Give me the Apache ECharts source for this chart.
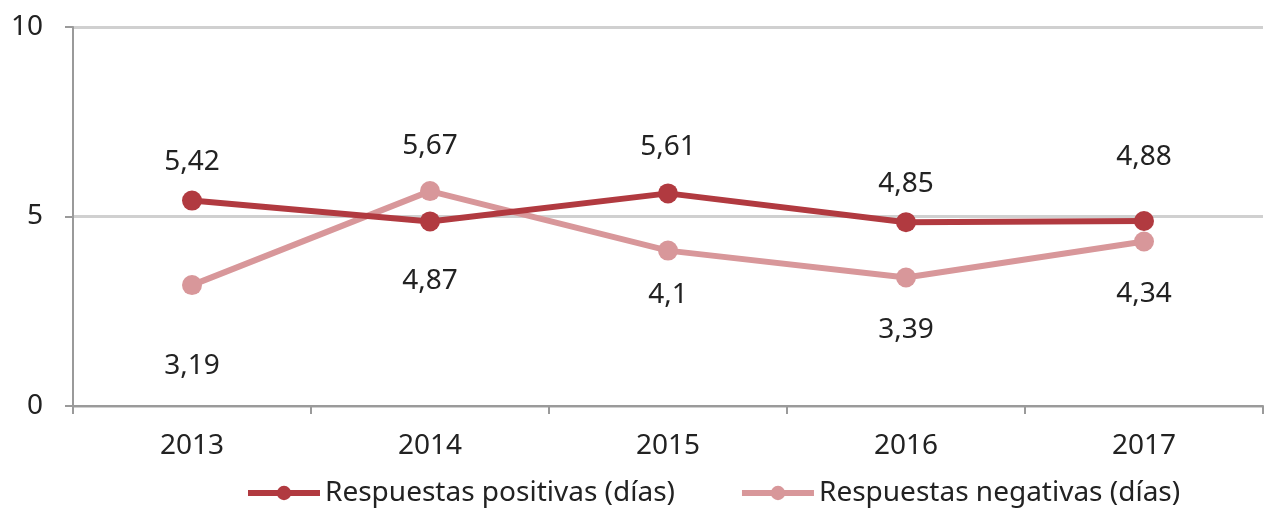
<!DOCTYPE html>
<html>
<head>
<meta charset="utf-8">
<script src="https://cdn.jsdelivr.net/npm/echarts@6/dist/echarts.min.js"></script>
<style>
  html, body { margin: 0; padding: 0; background: #fff; }
  #chart { width: 1265px; height: 516px; }
</style>
</head>
<body>
<div id="chart"></div>
<script>
  // datos
  var years = ['2013', '2014', '2015', '2016', '2017']
  var positivas = [5.42, 4.87, 5.61, 4.85, 4.88]
  var negativas = [3.19, 5.67, 4.1, 3.39, 4.34]
  var yTicks = [0, 5, 10]

  // desplazamiento vertical de cada etiqueta respecto al punto
  var posLabelDy = [-39, 60, -46, -38, -64]
  var negLabelDy = [81, -45, 44, 53, 53]

  var fontFam = '"Noto Sans", "DejaVu Sans", sans-serif'

  function withLabels(values, dys) {
    return values.map(function(v, i) {
      return {
        value: v,
        label: { offset: [0, dys[i]] }
      }
    })
  }

  var myChart = echarts.init(document.getElementById('chart'))
  var option = {
    backgroundColor: '#fff',
    animation: false,
    grid: {
      left: 73,
      right: 2,
      top: 27,
      bottom: 110
    },
    legend: {
      bottom: 4,
      left: 240,
      itemWidth: 72,
      itemHeight: 18,
      itemGap: 64,
      lineStyle: { width: 6 },
      textStyle: {
        fontFamily: fontFam,
        fontSize: 28,
        color: '#222'
      },
      data: ['Respuestas positivas (días)', 'Respuestas negativas (días)']
    },
    xAxis: {
      type: 'category',
      data: years,
      boundaryGap: true,
      axisLine: { lineStyle: { color: '#9a9a9a', width: 2 } },
      axisTick: { show: true, length: 8, lineStyle: { color: '#9a9a9a', width: 2 } },
      axisLabel: {
        margin: 26,
        fontFamily: fontFam,
        fontSize: 28,
        color: '#222'
      }
    },
    yAxis: {
      type: 'value',
      min: yTicks[0],
      max: yTicks[yTicks.length - 1],
      interval: 5,
      axisLine: { show: true, lineStyle: { color: '#9a9a9a', width: 2 } },
      axisTick: { show: true, length: 8, lineStyle: { color: '#9a9a9a', width: 2 } },
      splitLine: { lineStyle: { color: '#d0d0d0', width: 3 } },
      axisLabel: {
        margin: 30,
        fontFamily: fontFam,
        fontSize: 28,
        color: '#222'
      }
    },
    series: [
      {
        name: 'Respuestas positivas (días)',
        type: 'line',
        data: withLabels(positivas, posLabelDy),
        symbol: 'circle',
        symbolSize: 20,
        z: 3,
        lineStyle: { color: '#b13a40', width: 6 },
        itemStyle: { color: '#b13a40' },
        label: {
          show: true,
          position: 'inside',
          fontFamily: fontFam,
          fontSize: 28,
          color: '#222',
          formatter: function(p) { return String(p.value).replace('.', ',') }
        }
      },
      {
        name: 'Respuestas negativas (días)',
        type: 'line',
        data: withLabels(negativas, negLabelDy),
        symbol: 'circle',
        symbolSize: 20,
        z: 2,
        lineStyle: { color: '#d8979a', width: 6 },
        itemStyle: { color: '#d8979a' },
        label: {
          show: true,
          position: 'inside',
          fontFamily: fontFam,
          fontSize: 28,
          color: '#222',
          formatter: function(p) { return String(p.value).replace('.', ',') }
        }
      }
    ]
  }
  myChart.setOption(option)
</script>
</body>
</html>
